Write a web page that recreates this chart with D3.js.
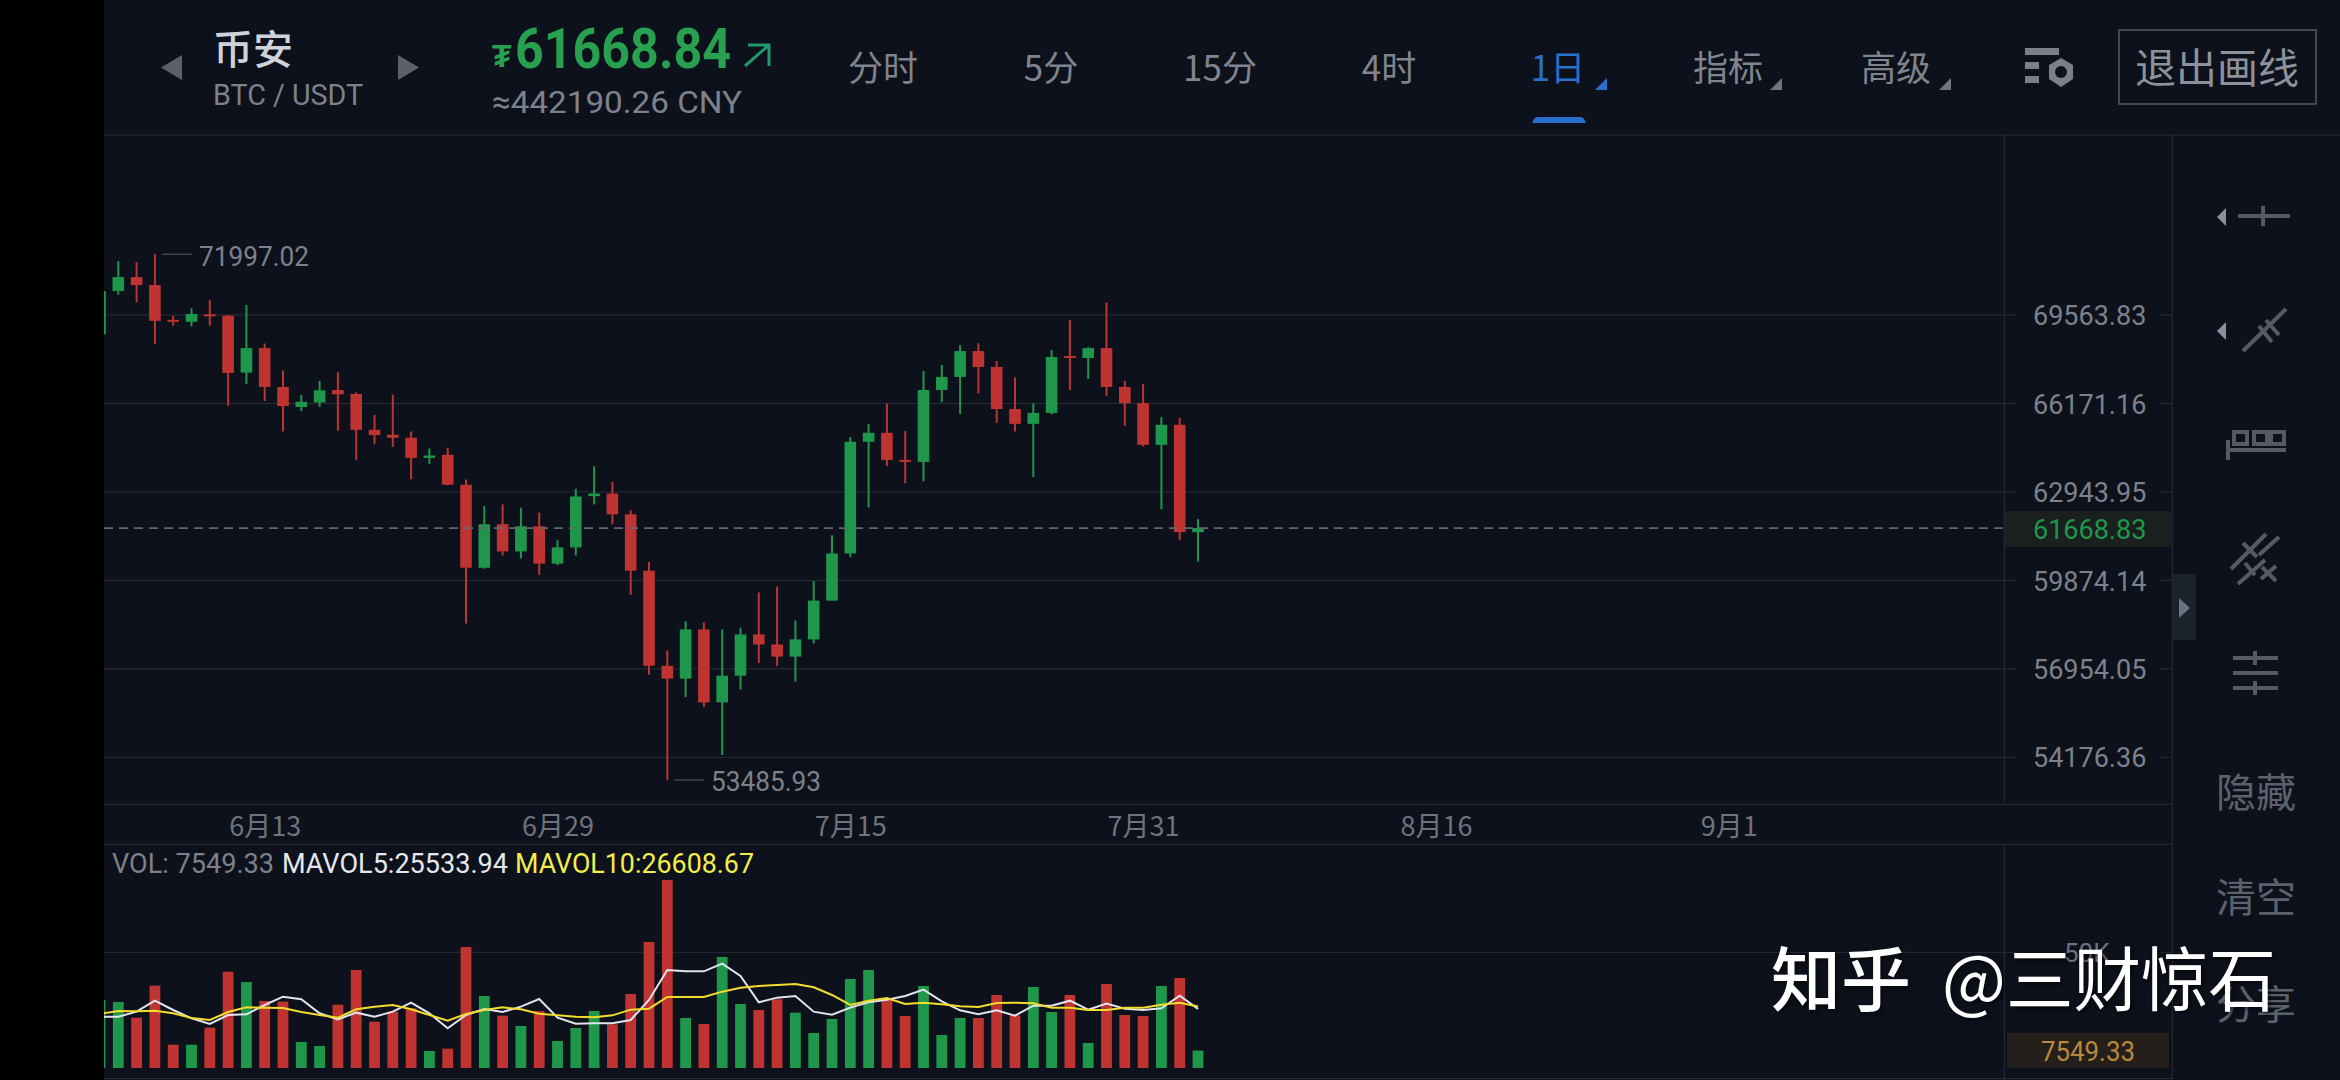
<!DOCTYPE html>
<html>
<head>
<meta charset="utf-8">
<title>BTC / USDT</title>
<script src="https://cdn.jsdelivr.net/npm/d3@7"></script>
<style>
  html, body { margin: 0; padding: 0; background: #000; overflow: hidden; }
  text { font-family: Roboto, "Noto Sans CJK SC", sans-serif; }
  .cjk { font-family: "Noto Sans CJK SC", sans-serif; }
</style>
</head>
<body>
<svg id="chart" width="2340" height="1080"></svg>
<script>
// Daily candles (index 9 is 6月13, one step per day)
var opens = [68804, 70514, 71069, 70752, 69374, 69298, 69590, 69539, 67336, 68273, 66791, 66037, 66209, 66678, 66526, 65193, 65010, 64900, 64167, 64277, 63201, 60304, 61804, 60862, 61734, 60444, 61002, 62793, 62886, 62153, 60200, 57052, 56640, 58238, 55885, 56734, 58073, 57744, 57349, 57909, 59193, 60793, 64753, 65083, 64093, 64020, 66677, 67171, 68159, 67551, 65963, 65413, 65817, 67969, 67893, 68273, 66791, 66184, 64642, 65377, 61529];
var highs = [70514, 71716, 71676, 71997.02, 69539, 69828, 70158, 69564, 69960, 68450, 67412, 66488, 67020, 67348, 66589, 65743, 66500, 65132, 64509, 64534, 63384, 62444, 62502, 62386, 62211, 61246, 63054, 63861, 63298, 62293, 60502, 57547, 58501, 58468, 58238, 58293, 59468, 59665, 58534, 59852, 61421, 64925, 65412, 66171, 65144, 67399, 67627, 68387, 68463, 67779, 67146, 66171, 68197, 69374, 68311, 70052, 67020, 66893, 65658, 65633, 61979];
var lows = [68804, 70369, 70066, 68425, 69146, 69121, 69146, 66085, 66905, 66260, 65132, 65890, 66049, 65157, 64094, 64668, 64570, 63396, 63947, 63188, 58436, 60270, 60723, 60618, 60060, 60386, 60723, 62502, 61804, 59391, 56765, 53485.93, 56053, 55738, 54249, 56294, 57140, 57052, 56545, 57777, 59193, 60665, 62397, 63873, 63250, 63323, 66222, 65780, 66551, 65450, 65132, 63469, 65768, 66677, 67095, 66450, 65340, 64581, 62328, 61250, 60518];
var closes = [70514, 71069, 70752, 69336, 69311, 69604, 69539, 67323, 68273, 66791, 66073, 66234, 66665, 66513, 65193, 64998, 64900, 64167, 64252, 63201, 60304, 61804, 60862, 61734, 60444, 61002, 62781, 62886, 62153, 60200, 57052, 56640, 58238, 55885, 56734, 58073, 57744, 57349, 57909, 59193, 60793, 64753, 65082, 64093, 64020, 66677, 67171, 68159, 67551, 65963, 65413, 65817, 67931, 67893, 68273, 66791, 66184, 64642, 65377, 61529, 61668.84];

// Volume panel
var volumes = [29390, 28530, 21750, 35590, 10080, 10080, 17430, 41640, 37170, 28960, 28670, 11240, 9510, 27370, 42360, 20030, 24350, 25790, 7350, 8360, 52300, 31120, 22620, 18150, 24640, 11670, 17290, 24640, 18870, 31980, 54460, 81260, 21610, 19020, 47980, 27660, 25070, 29680, 23920, 15130, 21180, 38470, 42360, 29680, 22480, 35440, 14260, 21610, 21610, 31550, 22760, 35010, 24200, 31550, 10810, 36310, 22910, 22480, 35440, 38900, 7549.33];
var mavol5 = [22190, 22190, 24350, 29100, 25070, 21470, 19020, 22910, 23200, 27230, 30830, 29680, 23630, 21030, 23920, 22190, 24350, 28240, 23630, 17140, 22910, 25500, 24200, 26510, 29820, 21750, 19160, 19310, 19310, 20750, 29390, 42360, 41780, 41780, 45090, 39760, 28380, 30400, 31120, 24350, 23050, 26080, 28380, 29530, 31120, 33860, 28810, 24920, 23200, 24920, 22620, 26940, 26940, 29100, 25210, 27810, 25640, 25070, 25790, 31260, 25533.94];
var mavol10 = [23340, 24640, 24490, 24780, 23630, 21610, 20750, 24200, 26220, 26080, 25930, 24200, 22910, 21750, 25360, 26510, 27230, 25360, 22910, 20460, 23340, 25070, 26220, 25360, 23480, 22760, 22190, 21900, 22760, 25210, 25640, 30690, 30690, 30690, 32990, 34720, 35440, 35870, 36310, 34860, 31550, 27230, 29100, 30250, 27660, 28240, 27520, 26650, 26360, 28090, 28240, 27950, 26080, 26080, 25070, 25070, 26080, 26080, 27370, 28240, 26608.67];

// Axis labels
var priceTicks = [69563.83, 66171.16, 62943.95, 59874.14, 56954.05, 54176.36];
var dateTicks = [9, 25, 41, 57, 73, 89];
var dateLabels = ['6月13', '6月29', '7月15', '7月31', '8月16', '9月1'];
var tabNames = ['分时', '5分', '15分', '4时', '1日', '指标', '高级'];
var tabCenters = [883, 1051, 1220, 1389, 1558, 1728, 1896];
var sideNames = ['隐藏', '清空', '分享'];
var sideCenters = [793, 898, 1005];

var lastPrice = 61668.83;
var lastVolume = 7549.33;
var maxPrice = 71997.02;
var minPrice = 53485.93;

var bg = '#0d111b';
var grid = '#2a2e38';
var grey = '#7d818b';
var green = '#1f974a';
var red = '#bf3431';
var blue = '#2a6fc9';
var iconGrey = '#555a65';

var svg = d3.select('#chart');

// Scales
var x = d3.scaleLinear().domain([0, 60]).range([100, 1198]);
var yPrice = d3.scaleLog().domain([54176.36, 69563.83]).range([757.3, 315]);
var yVol = d3.scaleLinear().domain([0, 50000]).range([1068, 952.3]);

svg.append('rect').attr('x', 104).attr('width', 2236).attr('height', 1080).attr('fill', bg);

svg.append('clipPath').attr('id', 'plot').append('rect')
  .attr('x', 104).attr('y', 135).attr('width', 1900).attr('height', 945);

// Frame lines
function line(x1, y1, x2, y2, color, w) {
  return svg.append('line').attr('x1', x1).attr('y1', y1).attr('x2', x2).attr('y2', y2)
    .attr('stroke', color).attr('stroke-width', w || 1);
}
line(104, 135, 2340, 135, grid);
line(104, 804.3, 2172, 804.3, grid);
line(104, 844.3, 2172, 844.3, grid);
line(104, 1078.5, 2172, 1078.5, grid);
line(2004.3, 135, 2004.3, 804.3, grid);
line(2004.3, 844.3, 2004.3, 1080, grid);
line(2172.3, 135, 2172.3, 1080, grid);

// Price grid and labels
priceTicks.forEach(function(p) {
  line(104, yPrice(p), 2016, yPrice(p), grid);
  line(2160, yPrice(p), 2172, yPrice(p), grid);
});
line(104, yVol(50000), 2016, yVol(50000), grid);
line(2160, yVol(50000), 2172, yVol(50000), grid);

var priceAxis = d3.axisRight(yPrice).tickValues(priceTicks).tickFormat(d3.format('.2f')).tickSize(0).tickPadding(0);
var gPrice = svg.append('g').attr('transform', 'translate(2033,1)').call(priceAxis);
gPrice.select('.domain').remove();
gPrice.selectAll('text').attr('fill', grey).style('font-size', '27px').style('font-family', 'Roboto');

var dateAxis = d3.axisBottom(x).tickValues(dateTicks).tickFormat(function(d, i) { return dateLabels[i]; }).tickSize(0).tickPadding(0);
var gDate = svg.append('g').attr('transform', 'translate(0,817)').call(dateAxis);
gDate.select('.domain').remove();
gDate.selectAll('text').attr('fill', '#6f737d').attr('class', 'cjk').style('font-size', '27px');

// Candles
var candles = svg.append('g').attr('clip-path', 'url(#plot)');
var idx = d3.range(opens.length);
function candleColor(i) { return closes[i] >= opens[i] ? green : red; }

candles.selectAll('.wick').data(idx).enter().append('line').attr('class', 'wick')
  .attr('x1', function(i) { return x(i); }).attr('x2', function(i) { return x(i); })
  .attr('y1', function(i) { return yPrice(highs[i]); })
  .attr('y2', function(i) { return yPrice(lows[i]); })
  .attr('stroke', candleColor).attr('stroke-width', 2);

candles.selectAll('.body').data(idx).enter().append('rect').attr('class', 'body')
  .attr('x', function(i) { return x(i) - 5.8; })
  .attr('width', 11.6)
  .attr('y', function(i) { return yPrice(Math.max(opens[i], closes[i])); })
  .attr('height', function(i) { return Math.max(2, Math.abs(yPrice(opens[i]) - yPrice(closes[i]))); })
  .attr('fill', candleColor);

// Last price line
line(104, yPrice(lastPrice), 2004, yPrice(lastPrice), '#62666f', 1.6).attr('stroke-dasharray', '9 6');

// Max and min notes
line(162, yPrice(maxPrice), 192, yPrice(maxPrice), '#5a5e68');
svg.append('text').attr('x', 199).attr('y', 266).attr('fill', grey).style('font-size', '27px')
  .attr('textLength', 110).attr('lengthAdjust', 'spacingAndGlyphs').text(d3.format('.2f')(maxPrice));
line(674, yPrice(minPrice), 704, yPrice(minPrice), '#5a5e68');
svg.append('text').attr('x', 711).attr('y', 791).attr('fill', grey).style('font-size', '27px')
  .attr('textLength', 110).attr('lengthAdjust', 'spacingAndGlyphs').text(d3.format('.2f')(minPrice));

// Last price tag
svg.append('rect').attr('x', 2005).attr('y', 511).attr('width', 166).attr('height', 36).attr('fill', '#1a201f');
svg.append('text').attr('x', 2033).attr('y', yPrice(lastPrice) + 11).attr('fill', green).style('font-size', '27px').text(d3.format('.2f')(lastPrice));

// Volume bars
var bars = svg.append('g').attr('clip-path', 'url(#plot)');
bars.selectAll('rect').data(idx).enter().append('rect')
  .attr('x', function(i) { return x(i) - 5.4; })
  .attr('width', 10.8)
  .attr('y', function(i) { return yVol(volumes[i]); })
  .attr('height', function(i) { return yVol(0) - yVol(volumes[i]); })
  .attr('fill', candleColor);

var maLine = d3.line().x(function(d, i) { return x(i); }).y(function(d) { return yVol(d); });
bars.append('path').datum(mavol5).attr('d', maLine).attr('fill', 'none').attr('stroke', '#e1e4ee').attr('stroke-width', 2);
bars.append('path').datum(mavol10).attr('d', maLine).attr('fill', 'none').attr('stroke', '#f2dc2c').attr('stroke-width', 2);

// Volume legend
function legend(txt, x0, len, color) {
  svg.append('text').attr('x', x0).attr('y', 873).attr('fill', color).style('font-size', '27px')
    .attr('textLength', len).attr('lengthAdjust', 'spacingAndGlyphs').text(txt);
}
legend('VOL: ' + lastVolume, 112, 162, grey);
legend('MAVOL5:' + d3.format('.2f')(mavol5[60]), 282, 226, '#e6e8ee');
legend('MAVOL10:' + d3.format('.2f')(mavol10[60]), 515, 239, '#f2ee4a');

// Volume axis labels
svg.append('text').attr('x', 2064).attr('y', 962).attr('fill', '#6f737d').style('font-size', '26px').text('50K');
svg.append('rect').attr('x', 2007).attr('y', 1033).attr('width', 162).attr('height', 35).attr('fill', '#241f1a');
svg.append('text').attr('x', 2041).attr('y', 1061).attr('fill', '#b8893a').style('font-size', '27px')
  .attr('textLength', 94).attr('lengthAdjust', 'spacingAndGlyphs').text(lastVolume);

// Header
svg.append('path').attr('d', 'M182,55 L161,67.5 L182,80 Z').attr('fill', '#5c6068');
svg.append('path').attr('d', 'M398,55 L419,67.5 L398,80 Z').attr('fill', '#5c6068');
svg.append('text').attr('class', 'cjk').attr('x', 213).attr('y', 64).attr('fill', '#d0d2d9').style('font-size', '40px').style('font-weight', 500).text('币安');
svg.append('text').attr('x', 213).attr('y', 105).attr('fill', grey).style('font-size', '30px')
  .attr('textLength', 150).attr('lengthAdjust', 'spacingAndGlyphs').text('BTC / USDT');
svg.append('text').attr('x', 492).attr('y', 67).attr('fill', '#27a050').style('font-size', '32px').style('font-weight', 700).text('₮');
svg.append('text').attr('x', 515).attr('y', 68).attr('fill', '#27a050').style('font-size', '56px').style('font-weight', 700)
  .attr('textLength', 216).attr('lengthAdjust', 'spacingAndGlyphs').text('61668.84');
svg.append('path').attr('d', 'M748,45 L769,45 L769,66 M769,45 L745,66').attr('fill', 'none').attr('stroke', '#1f9a6a').attr('stroke-width', 3);
svg.append('text').attr('x', 492).attr('y', 113).attr('fill', grey).style('font-size', '32px')
  .attr('textLength', 250).attr('lengthAdjust', 'spacingAndGlyphs').text('≈442190.26 CNY');

tabNames.forEach(function(name, i) {
  svg.append('text').attr('class', 'cjk').attr('x', tabCenters[i]).attr('y', 81).attr('text-anchor', 'middle')
    .attr('fill', name === '1日' ? blue : '#80848e').style('font-size', '35px').text(name);
});
[[1607, blue], [1782, '#70747e'], [1951, '#70747e']].forEach(function(c) {
  svg.append('path').attr('d', 'M' + c[0] + ',78 L' + c[0] + ',90 L' + (c[0] - 12) + ',90 Z').attr('fill', c[1]);
});
svg.append('path').attr('d', 'M1532,123 L1534,119 Q1535,117 1538,117 L1580,117 Q1583,117 1584,119 L1586,123 Z').attr('fill', blue);

// Settings icon
svg.append('rect').attr('x', 2025).attr('y', 48).attr('width', 34).attr('height', 7).attr('fill', '#7a7f8a');
svg.append('rect').attr('x', 2025).attr('y', 62).attr('width', 14).attr('height', 7).attr('fill', '#7a7f8a');
svg.append('rect').attr('x', 2025).attr('y', 76).attr('width', 14).attr('height', 7).attr('fill', '#7a7f8a');
svg.append('path').attr('d', 'M2061,58 L2073,65 L2073,79 L2061,87 L2049,79 L2049,65 Z').attr('fill', '#7a7f8a');
svg.append('circle').attr('cx', 2061).attr('cy', 72).attr('r', 6).attr('fill', bg);

// Exit button
svg.append('rect').attr('x', 2119).attr('y', 30).attr('width', 197).attr('height', 74).attr('fill', 'none').attr('stroke', '#555a65').attr('stroke-width', 1.5);
svg.append('text').attr('class', 'cjk').attr('x', 2217).attr('y', 83).attr('text-anchor', 'middle').attr('fill', '#8d919b').style('font-size', '41px').text('退出画线');

// Collapse tab
svg.append('rect').attr('x', 2173).attr('y', 574).attr('width', 23).attr('height', 66).attr('fill', '#1b222c');
svg.append('path').attr('d', 'M2179,598 L2190,608 L2179,618 Z').attr('fill', '#6c7380');

// Drawing tools
function icon(d) { svg.append('path').attr('d', d).attr('fill', 'none').attr('stroke', iconGrey).attr('stroke-width', 4); }
svg.append('path').attr('d', 'M2226,208 L2217,217 L2226,226 Z').attr('fill', '#8a919e');
svg.append('path').attr('d', 'M2226,322 L2217,331 L2226,340 Z').attr('fill', '#8a919e');
icon('M2238,216 L2290,216 M2263,206 L2263,226');
icon('M2243,351 L2286,309 M2259,326 L2272,342 M2266,320 L2279,335');
icon('M2228,440 L2228,460 M2228,450 L2286,450 M2234,432 h13 v12 h-13 Z M2254,432 h13 v12 h-13 Z M2271,432 h13 v12 h-13 Z');
icon('M2231,569 L2266,534 M2243,543 L2257,557 M2238,584 L2265,560 M2245,563 L2255,575 M2262,567 L2276,581 M2259,555 L2279,537 M2261,579 L2276,566');
icon('M2233,658 L2278,658 M2233,673 L2278,673 M2233,688 L2278,688 M2255,651 L2255,665 M2255,681 L2255,695');

sideNames.forEach(function(name, i) {
  svg.append('text').attr('class', 'cjk').attr('x', 2256).attr('y', sideCenters[i] + 14).attr('text-anchor', 'middle')
    .attr('fill', '#5c616b').style('font-size', '40px').text(name);
});

// Watermark
svg.append('text').attr('class', 'cjk').attr('x', 1771).attr('y', 1006).attr('fill', '#fff')
  .style('font-size', '70px').style('font-weight', 500)
  .style('filter', 'drop-shadow(2px 2px 2px rgba(0,0,0,0.6))').text('知乎');
svg.append('text').attr('class', 'cjk').attr('x', 1942).attr('y', 1006).attr('fill', '#fff')
  .style('font-size', '70px').style('font-weight', 400)
  .style('filter', 'drop-shadow(2px 2px 2px rgba(0,0,0,0.6))')
  .attr('textLength', 334).attr('lengthAdjust', 'spacingAndGlyphs').text('@三财惊石');
</script>
</body>
</html>
